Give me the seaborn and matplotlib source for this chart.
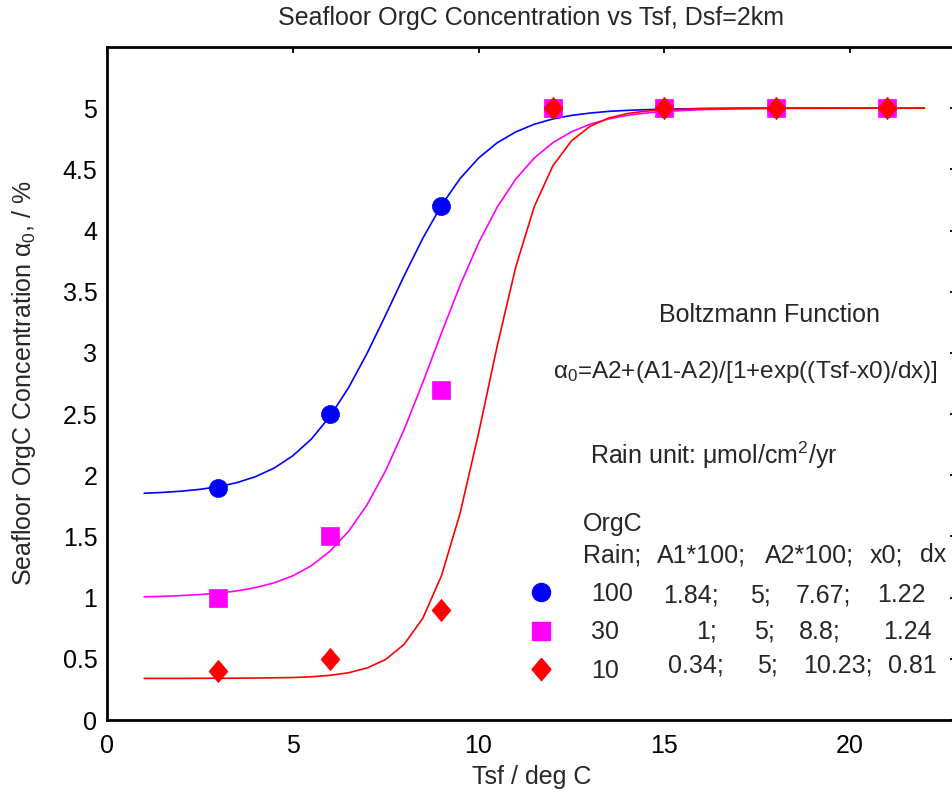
import numpy as np
import pandas as pd
import matplotlib
matplotlib.use("Agg")
import matplotlib.pyplot as plt
import seaborn as sns

# ---- data ----
obs_T = [3, 6, 9, 12, 15, 18, 21]
obs_100 = [1.90, 2.50, 4.20, 5.0, 5.0, 5.0, 5.0]
obs_30 = [1.00, 1.50, 2.70, 5.0, 5.0, 5.0, 5.0]
obs_10 = [0.40, 0.50, 0.90, 5.0, 5.0, 5.0, 5.0]

fit_T = [1, 1.5, 2, 2.5, 3, 3.5, 4, 4.5, 5, 5.5, 6, 6.5, 7, 7.5, 8, 8.5, 9, 9.5,
         10, 10.5, 11, 11.5, 12, 12.5, 13, 13.5, 14, 14.5, 15, 16, 17, 18, 19, 20, 21, 22]
fit_100 = [1.853, 1.860, 1.870, 1.885, 1.907, 1.940, 1.989, 2.059, 2.159, 2.296, 2.481,
           2.715, 2.997, 3.310, 3.632, 3.937, 4.205, 4.424, 4.592, 4.717, 4.806, 4.869,
           4.912, 4.941, 4.960, 4.974, 4.982, 4.988, 4.992, 4.997, 4.999, 5.0, 5.0, 5.0, 5.0, 5.0]
fit_30 = [1.007, 1.010, 1.017, 1.025, 1.037, 1.055, 1.082, 1.121, 1.178, 1.261, 1.379,
          1.541, 1.759, 2.038, 2.376, 2.759, 3.161, 3.550, 3.899, 4.190, 4.420, 4.593,
          4.718, 4.807, 4.869, 4.912, 4.941, 4.960, 4.973, 4.988, 4.995, 4.998, 4.999, 5.0, 5.0, 5.0]
fit_10 = [0.340, 0.340, 0.340, 0.341, 0.341, 0.342, 0.343, 0.345, 0.347, 0.353, 0.365,
          0.386, 0.425, 0.495, 0.619, 0.832, 1.177, 1.686, 2.342, 3.054, 3.701, 4.196,
          4.529, 4.733, 4.852, 4.919, 4.956, 4.976, 4.987, 4.996, 4.999, 5.0, 5.0, 5.0, 5.0, 5.0]

rain_labels = ["100", "30", "10"]
colors = ["#0000FF", "#FF00FF", "#FF0000"]
header = ["Rain;", "A1*100;", "A2*100;", "x0;", "dx"]
table_rows = [["1.84;", "5;", "7.67;", "1.22"],
              ["1;", "5;", "8.8;", "1.24"],
              ["0.34;", "5;", "10.23;", "0.81"]]

x_ticks = [0, 5, 10, 15, 20]
y_ticks = [0, 0.5, 1, 1.5, 2, 2.5, 3, 3.5, 4, 4.5, 5]
y_ticklabels = ["0", "0.5", "1", "1.5", "2", "2.5", "3", "3.5", "4", "4.5", "5"]

# ---- style ----
sns.set_style("white")
plt.rcParams["font.family"] = ["Liberation Sans", "DejaVu Sans"]
plt.rcParams["mathtext.fontset"] = "custom"
plt.rcParams["mathtext.rm"] = "Liberation Sans"
plt.rcParams["mathtext.it"] = "Liberation Sans"
plt.rcParams["mathtext.bf"] = "Liberation Sans:bold"

diamond = [(0, 1), (0.85, 0), (0, -1), (-0.85, 0), (0, 1)]
markers = ["o", "s", diamond]
msizes = [13, 12.5, 16]

W, H = 953, 796
fig = plt.figure(figsize=(W / 100, H / 100), dpi=100)
ax = fig.add_axes([107 / W, (H - 720) / H, (956 - 107) / W, (720 - 47) / H])

fit_df = pd.DataFrame({"T": fit_T * 3,
                       "a": fit_100 + fit_30 + fit_10,
                       "rain": ["100"] * len(fit_T) + ["30"] * len(fit_T) + ["10"] * len(fit_T)})
obs_df = pd.DataFrame({"T": obs_T * 3,
                       "a": obs_100 + obs_30 + obs_10,
                       "rain": ["100"] * len(obs_T) + ["30"] * len(obs_T) + ["10"] * len(obs_T)})

for lab, col in zip(rain_labels, colors):
    sub = fit_df[fit_df.rain == lab]
    sns.lineplot(data=sub, x="T", y="a", color=col, lw=1.2, ax=ax, legend=False,
                 estimator=None, sort=False)
for lab, col, mk, ms in zip(rain_labels, colors, markers, msizes):
    sub = obs_df[obs_df.rain == lab]
    ax.plot(sub["T"], sub["a"], ls="none", marker=mk, ms=ms, color=col, mec=col, mew=0.5)

ax.set_xlim(0, 22.85)
ax.set_ylim(0, 5.5)
ax.set_xticks(x_ticks)
ax.set_xticklabels([str(t) for t in x_ticks])
ax.set_yticks(y_ticks)
ax.set_yticklabels(y_ticklabels)
ax.tick_params(direction="in", length=4.5, width=1.3, top=True, right=True,
               labelsize=18, colors="black")
ax.tick_params(axis="x", pad=10)
ax.tick_params(axis="y", pad=7)
for s in ax.spines.values():
    s.set_color("black")
    s.set_linewidth(2)

ax.set_xlabel("Tsf / deg C", fontsize=18)
ax.xaxis.set_label_coords(0.5, -(765 - 720) / 673)
ax.set_ylabel(r"Seafloor OrgC Concentration $\alpha_0$, / %", fontsize=18)
ax.yaxis.set_label_coords(-(107 - 38) / 849, 0.5)

def px(x, y):
    return x / W, 1 - y / H

fs = 18
fig.text(*px(531, 18), "Seafloor OrgC Concentration vs Tsf, Dsf=2km", fontsize=18,
         ha="center", va="center")
fig.text(*px(770, 315), "Boltzmann Function", fontsize=fs, ha="center", va="center")
fig.text(*px(553, 372), r"$\alpha_0$=A2+(A1-A2)/[1+exp((Tsf-x0)/dx)]", fontsize=17.5,
         ha="left", va="center")
fig.text(*px(590, 455), r"Rain unit: $\mu$mol/cm$^2$/yr", fontsize=fs, ha="left", va="center")
fig.text(*px(583, 524), "OrgC", fontsize=fs, ha="left", va="center")
for cell, xx in zip(header, [583, 657, 765, 870, 920]):
    fig.text(*px(xx, 555), cell, fontsize=fs, ha="left", va="center")

handles = [plt.Line2D([], [], ls="none", marker=mk, ms=ms, color=col)
           for col, mk, ms in zip(colors, markers, msizes)]
leg = fig.legend(handles, rain_labels, loc="upper left", bbox_to_anchor=px(529, 582),
                 frameon=False, fontsize=fs, handlelength=1.0, handletextpad=1.5,
                 labelspacing=0.57, borderpad=0, borderaxespad=0)

col_x = [[663, 750, 796, 877], [696, 754, 799, 883], [668, 757, 803, 888]]
row_y = [595, 632, 666]
for row, xs, yy in zip(table_rows, col_x, row_y):
    for cell, xx in zip(row, xs):
        fig.text(*px(xx, yy), cell, fontsize=fs, ha="left", va="center")

fig.savefig("out.png", dpi=100)
